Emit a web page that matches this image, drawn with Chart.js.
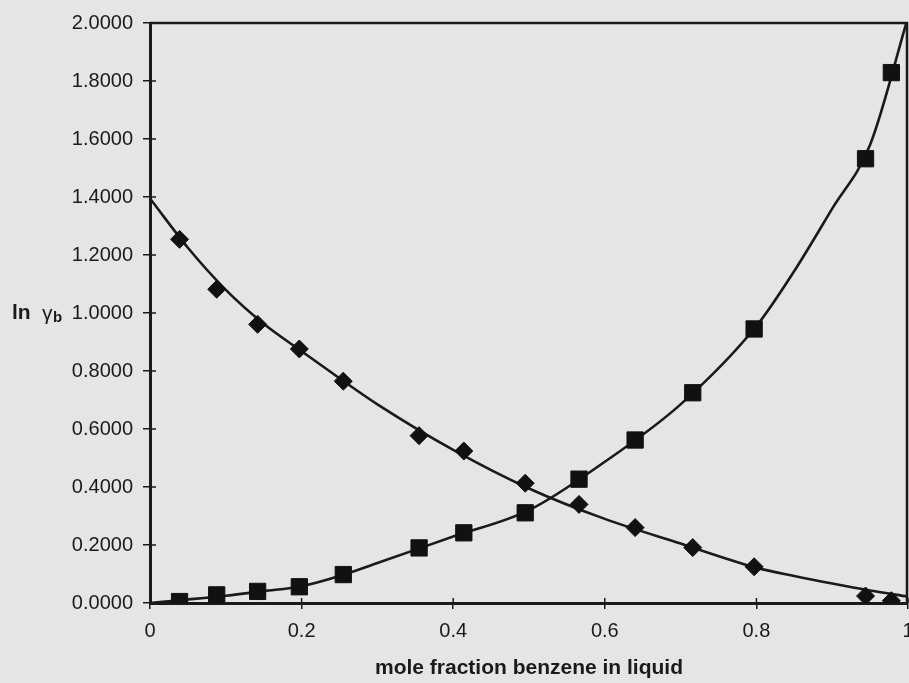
<!DOCTYPE html>
<html>
<head>
<meta charset="utf-8">
<script src="https://cdn.jsdelivr.net/npm/chart.js@4"></script>
<style>
  html, body { margin: 0; padding: 0; background: #e5e5e5; }
  #wrap { width: 909px; height: 683px; }
</style>
</head>
<body>
<div id="wrap"><canvas id="chart"></canvas></div>
<script>
// measured points (same mole fractions for both series)
const molFrac = [0.039, 0.088, 0.142, 0.197, 0.255, 0.355, 0.414, 0.495, 0.566, 0.640, 0.716, 0.797, 0.944, 0.978];
const lnGammaDiamond = [1.254, 1.082, 0.961, 0.876, 0.765, 0.577, 0.524, 0.413, 0.340, 0.260, 0.191, 0.125, 0.024, 0.008];
const lnGammaSquare = [0.005, 0.028, 0.040, 0.056, 0.098, 0.190, 0.242, 0.311, 0.427, 0.562, 0.725, 0.945, 1.532, 1.829];

// fitted curves
const fitFrac = [0, 0.05, 0.1, 0.15, 0.2, 0.25, 0.3, 0.4, 0.5, 0.6, 0.7, 0.8, 0.85, 0.9, 0.95, 1.0];
const fitDiamond = [1.395, 1.225, 1.08, 0.963, 0.868, 0.775, 0.685, 0.528, 0.395, 0.29, 0.205, 0.122, 0.093, 0.067, 0.043, 0.022];
const fitSquare = [0, 0.012, 0.025, 0.041, 0.058, 0.093, 0.138, 0.229, 0.32, 0.487, 0.685, 0.955, 1.145, 1.36, 1.58, 2.02];

const xTickLabels = ['0', '0.2', '0.4', '0.6', '0.8', '1'];
const xTitle = 'mole fraction benzene in liquid';

const FONT = "'Liberation Sans', Arial, sans-serif";
const INK = '#1a1a1a';

function pairs(xs, ys) {
  return xs.map((x, i) => ({ x: x, y: ys[i] }));
}

const paperPlugin = {
  id: 'paper',
  beforeDraw(chart) {
    const ctx = chart.ctx;
    ctx.save();
    ctx.fillStyle = '#e5e5e5';
    ctx.fillRect(0, 0, chart.width, chart.height);
    ctx.restore();
  },
  afterDraw(chart) {
    const ctx = chart.ctx;
    const a = chart.chartArea;
    const xs = chart.scales.x, ys = chart.scales.y;
    ctx.save();
    ctx.strokeStyle = INK;
    // top + right frame
    ctx.lineWidth = 2.5;
    ctx.beginPath();
    ctx.moveTo(a.left, a.top);
    ctx.lineTo(a.right - 1, a.top);
    ctx.lineTo(a.right - 1, a.bottom);
    ctx.stroke();
    // inner half of the cross ticks
    ctx.lineWidth = 1.5;
    ctx.beginPath();
    ys.ticks.forEach(t => {
      const py = ys.getPixelForValue(t.value);
      ctx.moveTo(a.left, py);
      ctx.lineTo(a.left + 6, py);
    });
    xs.ticks.forEach(t => {
      const px = xs.getPixelForValue(t.value);
      ctx.moveTo(px, a.bottom);
      ctx.lineTo(px, a.bottom - 5);
    });
    ctx.stroke();

    // x title
    ctx.fillStyle = INK;
    ctx.textAlign = 'center';
    ctx.textBaseline = 'middle';
    ctx.font = 'bold 21px ' + FONT;
    ctx.fillText(xTitle, (a.left + a.right) / 2, 668);

    // y title: ln γb
    const ty = ys.getPixelForValue(1.0);
    ctx.textAlign = 'left';
    ctx.font = 'bold 21px ' + FONT;
    ctx.fillText('ln', 12, ty);
    ctx.font = '21px ' + FONT;
    ctx.fillText('γ', 42, ty + 1);
    ctx.font = 'bold 15px ' + FONT;
    ctx.fillText('b', 53, ty + 5);
    ctx.restore();
  }
};

new Chart(document.getElementById('chart'), {
  type: 'scatter',
  data: {
    datasets: [
      {
        label: 'diamond fit',
        data: pairs(fitFrac, fitDiamond),
        showLine: true,
        borderColor: INK,
        borderWidth: 2.6,
        pointRadius: 0,
        cubicInterpolationMode: 'monotone',
        order: 3
      },
      {
        label: 'square fit',
        data: pairs(fitFrac, fitSquare),
        showLine: true,
        borderColor: INK,
        borderWidth: 2.6,
        pointRadius: 0,
        cubicInterpolationMode: 'monotone',
        order: 3
      },
      {
        label: 'diamonds',
        data: pairs(molFrac, lnGammaDiamond),
        pointStyle: 'rectRot',
        pointRadius: 9,
        backgroundColor: '#111',
        borderColor: '#111',
        borderWidth: 1,
        order: 1
      },
      {
        label: 'squares',
        data: pairs(molFrac, lnGammaSquare),
        pointStyle: 'rect',
        pointRadius: 11.5,
        backgroundColor: '#111',
        borderColor: '#111',
        borderWidth: 1,
        order: 1
      }
    ]
  },
  options: {
    responsive: true,
    maintainAspectRatio: false,
    animation: false,
    layout: { autoPadding: false, padding: { top: 23, right: 1, left: 0, bottom: 0 } },
    plugins: {
      legend: { display: false },
      tooltip: { enabled: false }
    },
    scales: {
      x: {
        type: 'linear',
        min: 0,
        max: 1,
        ticks: {
          stepSize: 0.2,
          padding: 10,
          color: INK,
          font: { family: FONT, size: 20 },
          callback: (v, i) => xTickLabels[i]
        },
        grid: { drawOnChartArea: false, tickLength: 6, color: INK, lineWidth: 1.5 },
        border: { color: INK, width: 3 },
        afterFit: s => { s.height = 80; s.paddingLeft = 0; s.paddingRight = 0; }
      },
      y: {
        min: 0,
        max: 2,
        ticks: {
          stepSize: 0.2,
          padding: 10,
          color: INK,
          font: { family: FONT, size: 20 },
          callback: v => v.toFixed(4)
        },
        grid: { drawOnChartArea: false, tickLength: 7, color: INK, lineWidth: 1.5 },
        border: { color: INK, width: 3 },
        afterFit: s => { s.width = 150; }
      }
    }
  },
  plugins: [paperPlugin]
});
</script>
</body>
</html>
